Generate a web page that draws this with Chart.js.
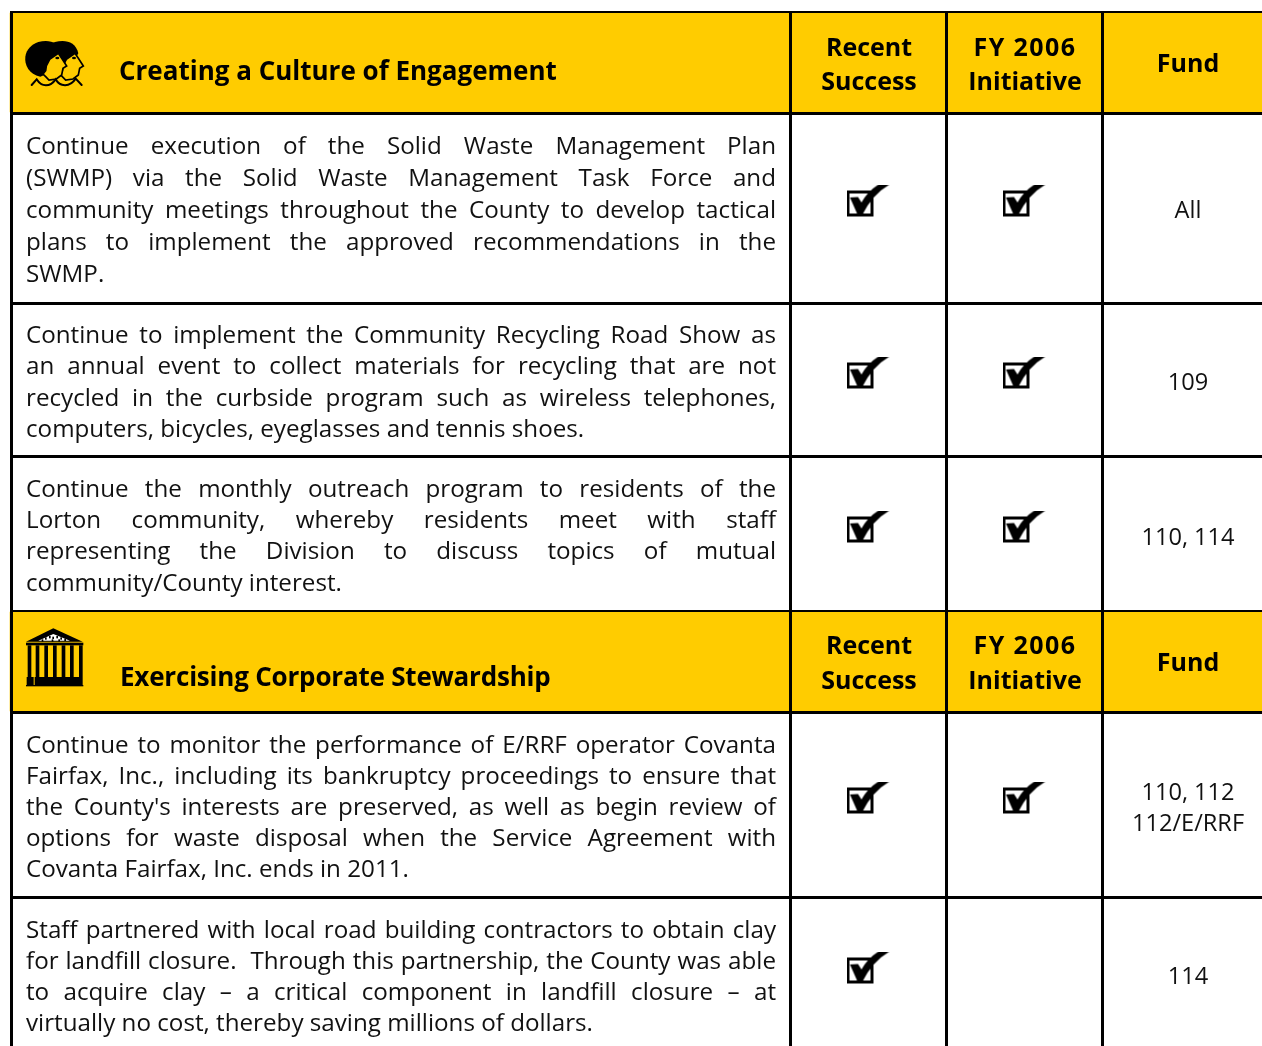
<!DOCTYPE html>
<html>
<head>
<meta charset="utf-8">
<title>Creating a Culture of Engagement</title>
<script src="https://cdn.jsdelivr.net/npm/chart.js@4"></script>
<style>
  html, body { margin: 0; padding: 0; background: #fff; overflow: hidden; }
  canvas { display: block; }
</style>
</head>
<body>
<canvas id="tableChart" width="1262" height="1046"></canvas>
<script>
// table content
const sectionTitles = ["Creating a Culture of Engagement", "Exercising Corporate Stewardship"];
const columnHeads = [["Recent", "Success"], ["FY 2006", "Initiative"], ["Fund"]];
const rowLines = [
  ["Continue execution of the Solid Waste Management Plan",
   "(SWMP) via the Solid Waste Management Task Force and",
   "community meetings throughout the County to develop tactical",
   "plans to implement the approved recommendations in the",
   "SWMP."],
  ["Continue to implement the Community Recycling Road Show as",
   "an annual event to collect materials for recycling that are not",
   "recycled in the curbside program such as wireless telephones,",
   "computers, bicycles, eyeglasses and tennis shoes."],
  ["Continue the monthly outreach program to residents of the",
   "Lorton community, whereby residents meet with staff",
   "representing the Division to discuss topics of mutual",
   "community/County interest."],
  ["Continue to monitor the performance of E/RRF operator Covanta",
   "Fairfax, Inc., including its bankruptcy proceedings to ensure that",
   "the County's interests are preserved, as well as begin review of",
   "options for waste disposal when the Service Agreement with",
   "Covanta Fairfax, Inc. ends in 2011."],
  ["Staff partnered with local road building contractors to obtain clay",
   "for landfill closure.  Through this partnership, the County was able",
   "to acquire clay \u2013 a critical component in landfill closure \u2013 at",
   "virtually no cost, thereby saving millions of dollars."]
];
const recentSuccess = [1, 1, 1, 1, 1];
const fy2006Initiative = [1, 1, 1, 1, 0];
const fundLines = [["All"], ["109"], ["110, 114"], ["110, 112", "112/E/RRF"], ["114"]];

// layout on the pixel-valued scales
const bandSpans = [[13, 112], [612, 711]];
const hRules = [[12, 2], [113.5, 3], [303.5, 3], [456.5, 3], [611, 2], [712.5, 3], [897.5, 3]];
const vRules = [11.5, 790.5, 946.5, 1102.5];
const colCentres = [869, 1025, 1188];
const checkCentres = [868.5, 1024.5];
const firstBaselines = [154, 343, 497, 753, 938];
const linePitch = [32, 31.3, 31.2, 31, 31];
const fundBaselines = [[218], [390], [545], [800, 831], [984]];
const checkY = [201, 373, 527, 798, 968];
const titleLeft = [119, 120];
const titleSpacing = ["0px", "-0.2px"];
const titleBaselines = [80, 686];
const headSpacing = ["0px", "1.4px", "0px"];
const headBaselines = [[[56, 90], [56, 90], [72]], [[654, 689], [654, 689], [671]]];
const textLeft = 26;
const textRight = 776;

const BODY_FONT = '24.2px "Open Sans"';
const FUND_FONT = '23.6px "Open Sans"';
const TITLE_FONT = 'bold 26px "Open Sans"';
const HEAD_FONT = 'bold 25px "Open Sans"';

function newIcon(w, h, s) {
  const c = document.createElement("canvas");
  c.width = w;
  c.height = h;
  const g = c.getContext("2d");
  g.scale(s, s);
  return [c, g];
}

function poly(g, pts) {
  g.beginPath();
  pts.forEach((p, i) => (i ? g.lineTo(p[0], p[1]) : g.moveTo(p[0], p[1])));
  g.closePath();
}

function checkIcon() {
  const [c, g] = newIcon(44, 33, 1);
  g.strokeStyle = "#000";
  g.lineWidth = 3;
  g.strokeRect(1.5, 7.5, 24, 23);
  g.fillStyle = "#000";
  g.beginPath();
  g.moveTo(3.5, 13);
  g.lineTo(11.5, 12.5);
  g.lineTo(15, 18);
  g.quadraticCurveTo(21, 7, 32, 0);
  g.lineTo(43, 0);
  g.quadraticCurveTo(26, 10, 16, 30);
  g.lineTo(11, 30);
  g.closePath();
  g.fill();
  return c;
}

// two profile heads, drawn in 3x units
function peopleIcon() {
  const [c, g] = newIcon(80, 65, 1 / 3);
  const head = (dx) => {
    g.save();
    g.translate(dx, 0);
    g.fillStyle = "#000";
    g.beginPath();
    g.moveTo(70, 36);
    g.bezierCurveTo(100, 28, 132, 34, 140, 70);
    g.lineTo(110, 125);
    g.lineTo(76, 140);
    g.bezierCurveTo(42, 132, 28, 105, 31, 80);
    g.bezierCurveTo(34, 58, 50, 43, 70, 36);
    g.closePath();
    g.fill();
    g.fillStyle = "#fc0";
    g.strokeStyle = "#000";
    g.lineWidth = 5;
    g.beginPath();
    g.moveTo(94, 108);
    g.lineTo(104, 88);
    g.lineTo(130, 70);
    g.lineTo(140, 85);
    g.lineTo(155, 108);
    g.lineTo(144, 115);
    g.lineTo(140, 135);
    g.lineTo(124, 147);
    g.lineTo(102, 150);
    g.lineTo(92, 140);
    g.lineTo(84, 132);
    g.lineTo(92, 122);
    g.closePath();
    g.fill();
    g.stroke();
    g.fillStyle = "#000";
    g.beginPath();
    g.ellipse(127, 84, 6, 4, 0, 0, Math.PI * 2);
    g.fill();
    g.restore();
  };
  head(50);
  head(0);
  g.strokeStyle = "#000";
  g.lineWidth = 6;
  g.lineCap = "round";
  g.beginPath();
  g.moveTo(50, 165);
  g.lineTo(65, 148);
  g.bezierCurveTo(80, 172, 105, 172, 122, 148);
  g.bezierCurveTo(135, 172, 165, 172, 182, 146);
  g.lineTo(200, 165);
  g.stroke();
  return c;
}

// columned building, drawn in 3x units
function templeIcon() {
  const [c, g] = newIcon(80, 70, 1 / 3);
  g.fillStyle = "#000";
  poly(g, [[115, 25], [203, 65], [33, 65]]);
  g.fill();
  g.fillRect(33, 68, 172, 8);
  [38, 62, 88, 114, 140, 165, 192].forEach((x) => g.fillRect(x, 76, 11, 95));
  g.fillRect(35, 171, 168, 24);
  g.fillRect(33, 195, 172, 4);
  g.fillStyle = "#fc0";
  g.fillRect(56, 171, 3, 24);
  g.fillStyle = "#fff";
  poly(g, [[115, 42], [165, 62], [70, 62]]);
  g.fill();
  g.fillStyle = "#000";
  [[90, 52], [102, 48], [112, 50], [124, 48], [136, 52], [148, 56], [80, 58], [110, 58], [130, 58]].forEach((p) => g.fillRect(p[0], p[1], 5, 7));
  return c;
}

// justified lines are laid out word by word across the column
function drawBodyLine(ctx, line, left, right, y, justify) {
  const words = line.split(" ");
  const widths = words.map((w) => ctx.measureText(w).width);
  const total = widths.reduce((a, b) => a + b, 0);
  const space = ctx.measureText(" ").width;
  const gap = justify ? (right - left - total) / (words.length - 1) : space;
  let x = left;
  words.forEach((w, i) => {
    if (w) ctx.fillText(w, x, y);
    x += widths[i] + gap;
  });
}

const tableText = {
  id: "tableText",
  afterDatasetsDraw(chart) {
    const { ctx, scales } = chart;
    const px = (v) => scales.x.getPixelForValue(v);
    const py = (v) => scales.y.getPixelForValue(v);
    ctx.save();
    ctx.fillStyle = "#000";
    ctx.textBaseline = "alphabetic";

    ctx.font = TITLE_FONT;
    ctx.textAlign = "left";
    sectionTitles.forEach((t, i) => {
      ctx.letterSpacing = titleSpacing[i];
      ctx.fillText(t, px(titleLeft[i]), py(titleBaselines[i]));
    });
    ctx.font = HEAD_FONT;
    ctx.textAlign = "center";
    headBaselines.forEach((section) => {
      section.forEach((ys, col) => {
        columnHeads[col].forEach((t, i) => {
          ctx.letterSpacing = i === 0 ? headSpacing[col] : "0px";
          ctx.fillText(t, px(colCentres[col]), py(ys[i]));
        });
      });
    });
    ctx.letterSpacing = "0px";

    ctx.font = BODY_FONT;
    ctx.fillStyle = "#111";
    ctx.textAlign = "left";
    rowLines.forEach((lines, r) => {
      lines.forEach((line, i) => {
        const y = py(firstBaselines[r] + i * linePitch[r]);
        drawBodyLine(ctx, line, px(textLeft), px(textRight), y, i < lines.length - 1);
      });
    });
    ctx.font = FUND_FONT;
    ctx.textAlign = "center";
    fundLines.forEach((lines, r) => {
      lines.forEach((t, i) => ctx.fillText(t, px(colCentres[2]), py(fundBaselines[r][i])));
    });
    ctx.restore();
  }
};

const checkPoints = [];
[recentSuccess, fy2006Initiative].forEach((col, c) => {
  col.forEach((on, r) => {
    if (on) checkPoints.push({ x: checkCentres[c], y: checkY[r] });
  });
});

const ruleDatasets = hRules.map((r) => ({
  type: "line",
  data: [{ x: 10, y: r[0] }, { x: 1262, y: r[0] }],
  borderColor: "#000",
  borderWidth: r[1],
  pointRadius: 0,
  order: 2
})).concat(vRules.map((x) => ({
  type: "line",
  data: [{ x: x, y: 11 }, { x: x, y: 1046 }],
  borderColor: "#000",
  borderWidth: 3,
  pointRadius: 0,
  order: 2
})));

function renderTable() {
  const datasets = [
    {
      type: "bar",
      indexAxis: "y",
      data: bandSpans.map((s) => ({ x: [10, 1262], y: (s[0] + s[1]) / 2 })),
      backgroundColor: "#ffcc00",
      barThickness: 99,
      order: 3
    },
    ...ruleDatasets,
    {
      type: "scatter",
      data: checkPoints,
      pointStyle: checkIcon(),
      pointRadius: 10,
      order: 1
    },
    {
      type: "scatter",
      data: [{ x: 55, y: 62.5 }],
      pointStyle: peopleIcon(),
      pointRadius: 10,
      order: 1
    },
    {
      type: "scatter",
      data: [{ x: 55, y: 655 }],
      pointStyle: templeIcon(),
      pointRadius: 10,
      order: 1
    }
  ];

  new Chart(document.getElementById("tableChart"), {
    data: { datasets },
    options: {
      responsive: false,
      animation: false,
      layout: { padding: 0, autoPadding: false },
      plugins: { legend: { display: false }, tooltip: { enabled: false } },
      scales: {
        x: { type: "linear", min: 0, max: 1262, offset: false, display: false },
        y: { type: "linear", min: 0, max: 1046, offset: false, reverse: true, display: false }
      }
    },
    plugins: [tableText]
  });
}

document.fonts.load(BODY_FONT).then(() => document.fonts.load(TITLE_FONT)).finally(renderTable);
</script>
</body>
</html>
